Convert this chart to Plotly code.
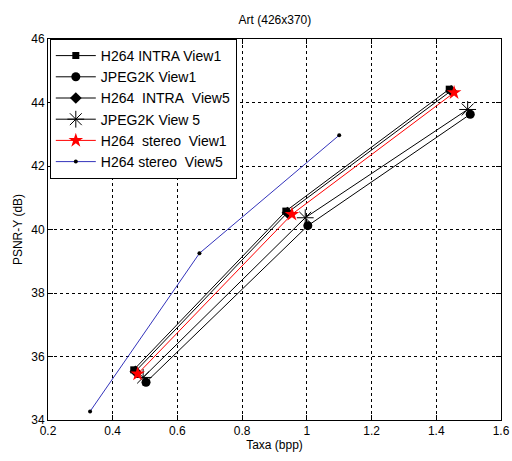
import plotly.graph_objects as go

NB = "\u00a0"
names = [
    "H264 INTRA View1",
    "JPEG2K View1",
    f"H264{NB} INTRA{NB} View5",
    "JPEG2K View 5",
    f"H264{NB} stereo{NB} View1",
    f"H264 stereo{NB} View5",
]

intra_v1_x = [0.465, 0.935, 1.440]
intra_v1_y = [35.58, 40.58, 44.42]
jpeg_v1_x = [0.503, 1.003, 1.505]
jpeg_v1_y = [35.19, 40.12, 43.63]
intra_v5_x = [0.470, 0.940, 1.446]
intra_v5_y = [35.53, 40.53, 44.37]
jpeg_v5_x = [0.494, 0.995, 1.497]
jpeg_v5_y = [35.34, 40.37, 43.78]
stereo_v1_x = [0.477, 0.954, 1.455]
stereo_v1_y = [35.45, 40.48, 44.31]
stereo_v5_x = [0.330, 0.668, 1.100]
stereo_v5_y = [34.27, 39.25, 42.97]

series = [
    (intra_v1_x, intra_v1_y, "black", dict(symbol="square", size=7, color="black")),
    (jpeg_v1_x, jpeg_v1_y, "black", dict(symbol="circle", size=9, color="black")),
    (intra_v5_x, intra_v5_y, "black", dict(symbol="diamond", size=9, color="black")),
    (jpeg_v5_x, jpeg_v5_y, "black", dict(symbol="asterisk-open", size=14, color="black", line=dict(color="black", width=1))),
    (stereo_v1_x, stereo_v1_y, "red", dict(symbol="star", size=11, color="red")),
    (stereo_v5_x, stereo_v5_y, "#3333bb", dict(symbol="circle", size=4, color="black")),
]

fig = go.Figure()
for name, (xs, ys, lc, mk) in zip(names, series):
    fig.add_trace(go.Scatter(x=xs, y=ys, mode="lines+markers", name=name,
                             line=dict(color=lc, width=1), marker=mk))

axis_common = dict(
    showline=True, linecolor="black", linewidth=1, mirror="ticks",
    ticks="inside", ticklen=5, tickcolor="black",
    showgrid=True, gridcolor="black", griddash="dot", gridwidth=1,
    zeroline=False, tickfont=dict(size=12, color="black"), automargin=False,
)
fig.update_xaxes(range=[0.2, 1.6], tickvals=[0.2, 0.4, 0.6, 0.8, 1.0, 1.2, 1.4, 1.6],
                 ticktext=["0.2", "0.4", "0.6", "0.8", "1", "1.2", "1.4", "1.6"],
                 title=dict(text="Taxa (bpp)", font=dict(size=12, color="black"), standoff=2),
                 **axis_common)
fig.update_yaxes(range=[34, 46], dtick=2,
                 title=dict(text="PSNR-Y (dB)", font=dict(size=12, color="black"), standoff=6),
                 **axis_common)

fig.update_layout(
    width=512, height=461,
    margin=dict(l=48, r=11, t=39, b=41, autoexpand=False),
    paper_bgcolor="white", plot_bgcolor="white",
    font=dict(family="Liberation Sans, Arial, sans-serif", color="black"),
    title=dict(text="Art (426x370)", x=0.537, xanchor="center", y=0.957, yanchor="middle",
               font=dict(size=12, color="black"), automargin=False),
    legend=dict(x=0.004, y=1.0, xanchor="left", yanchor="top",
                bgcolor="white", bordercolor="black", borderwidth=1,
                font=dict(size=14, color="black"), tracegroupgap=0, itemwidth=40),
    showlegend=True,
)

fig.write_html("out.html", config={"displayModeBar": False},
               post_script="document.body.style.margin='0';document.body.style.overflow='hidden';")
